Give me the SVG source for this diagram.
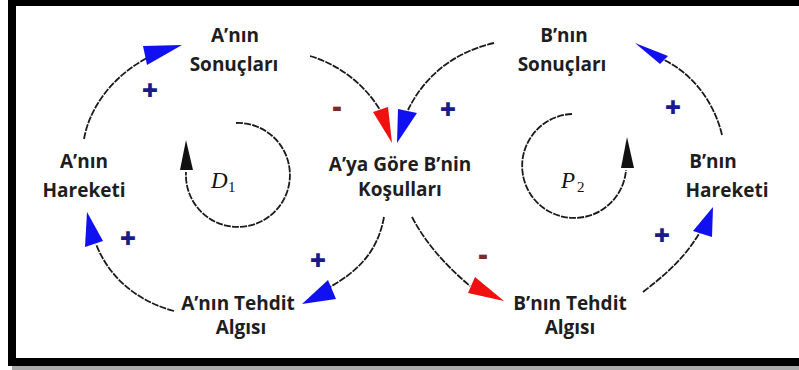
<svg xmlns="http://www.w3.org/2000/svg" width="799" height="370" viewBox="0 0 799 370">
<style>
.lbl{font-family:"Open Sans","Liberation Sans",sans-serif;font-weight:700;font-size:19px;fill:#1e1e1e;text-anchor:middle}
.ln{fill:none;stroke:#1a1a1a;stroke-width:1.8;stroke-dasharray:7 1.2}
.blue{fill:#1010f0}
.red{fill:#f01010}
.plus{font-family:"Open Sans","Liberation Sans",sans-serif;font-weight:800;font-size:28px;fill:#1a1a8a;text-anchor:middle}
.minus{font-family:"Open Sans","Liberation Sans",sans-serif;font-weight:800;font-size:28px;fill:#7a2a2a;text-anchor:middle}
.loopl{font-family:"Liberation Serif","DejaVu Serif",serif;font-style:italic;font-size:23px;fill:#111}
.sub{font-family:"Liberation Serif","DejaVu Serif",serif;font-size:15px;fill:#111}
</style>
<rect x="0" y="0" width="799" height="370" fill="#fff"/>
<g id="frame">
<rect x="12" y="366" width="787" height="4" fill="#aaa"/>
<rect x="8" y="0" width="791" height="6" fill="#000"/>
<rect x="8" y="0" width="8" height="366" fill="#000"/>
<rect x="8" y="358" width="791" height="8" fill="#000"/>
</g>
<g id="connectors">
<path class="ln" d="M84,139 C90,105 115,75 147,58"/>
<polygon class="blue" points="182,45 143,46 147,65"/>
<path class="ln" d="M310,56 C340,65 365,85 380,110"/>
<polygon class="red" points="373,112 388,107 392,143"/>
<path class="ln" d="M494,43 C455,52 425,75 408,110"/>
<polygon class="blue" points="398,109 417,113 397,143"/>
<path class="ln" d="M384,217 C378,250 360,270 330,287"/>
<polygon class="blue" points="302,304 328,280 336,299"/>
<path class="ln" d="M174,311 C140,302 110,280 96,244"/>
<polygon class="blue" points="87,212 85,247 103,241"/>
<path class="ln" d="M412,217 C425,242 445,265 470,286"/>
<polygon class="red" points="468,293 475,277 504,301"/>
<path class="ln" d="M643,292 C665,275 685,258 700,232"/>
<polygon class="blue" points="713,207 693,231 712,237"/>
<path class="ln" d="M722,135 C715,105 695,75 664,60"/>
<polygon class="blue" points="635,43 668,56 660,64"/>
<text class="plus" x="150" y="100">+</text>
<text class="plus" x="448" y="119">+</text>
<text class="plus" x="318" y="270">+</text>
<text class="plus" x="128" y="248">+</text>
<text class="plus" x="662" y="245">+</text>
<text class="plus" x="673" y="117">+</text>
<text class="minus" x="337" y="116">-</text>
<text class="minus" x="483" y="264">-</text>
</g>
<g id="loop-D1">
<path class="ln" d="M236,123 A52,52 0 1 1 186,172"/>
<polygon fill="#111" points="186,140 180,170 193,170"/>
<text class="loopl" x="211" y="188">D</text><text class="sub" x="228" y="192">1</text>
</g>
<g id="loop-P2">
<path class="ln" d="M572,114 A52,52 0 1 0 626,170"/>
<polygon fill="#111" points="627,137 621,168 634,168"/>
<text class="loopl" x="561" y="188">P</text><text class="sub" x="577" y="192">2</text>
</g>
<g id="n-a-sonuc"><text class="lbl" x="235" y="42">A’nın</text><text class="lbl" x="234" y="71">Sonuçları</text></g>
<g id="n-b-sonuc"><text class="lbl" x="564" y="42">B’nın</text><text class="lbl" x="562" y="71">Sonuçları</text></g>
<g id="n-a-hareket"><text class="lbl" x="84" y="168">A’nın</text><text class="lbl" x="84" y="197">Hareketi</text></g>
<g id="n-kosul"><text class="lbl" x="400" y="171">A’ya Göre B’nin</text><text class="lbl" x="400" y="196">Koşulları</text></g>
<g id="n-b-hareket"><text class="lbl" x="713" y="168">B’nın</text><text class="lbl" x="727" y="197">Hareketi</text></g>
<g id="n-a-tehdit"><text class="lbl" x="238" y="310">A’nın Tehdit</text><text class="lbl" x="241" y="334">Algısı</text></g>
<g id="n-b-tehdit"><text class="lbl" x="570" y="310">B’nın Tehdit</text><text class="lbl" x="570" y="334">Algısı</text></g>
</svg>
